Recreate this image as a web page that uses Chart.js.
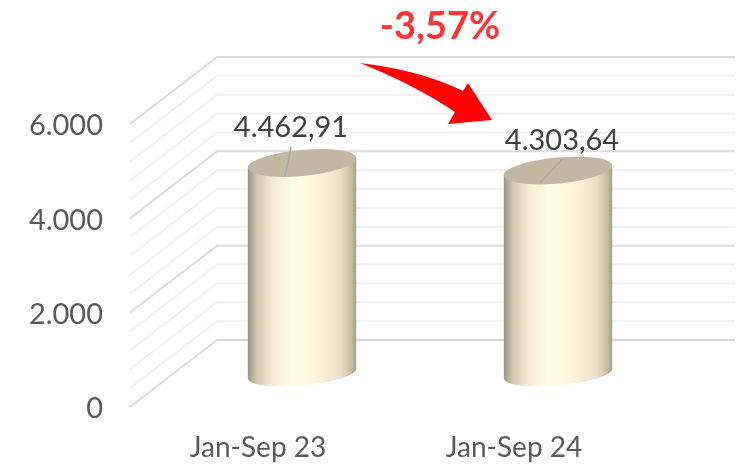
<!DOCTYPE html>
<html>
<head>
<meta charset="utf-8">
<style>
  html, body { margin: 0; padding: 0; background: #fff; }
  canvas { display: block; }
</style>
<script src="https://cdn.jsdelivr.net/npm/chart.js@4/dist/chart.umd.min.js"></script>
</head>
<body>
<canvas id="myChart" width="744" height="469"></canvas>
<script>
const categories = ['Jan-Sep 23', 'Jan-Sep 24'];
const values = [4462.91, 4303.64];
const changeLabel = '-3,57%';

const yMax = 6000;
const yStep = 400;
const yLabelStep = 2000;

// 3d look: how far the back wall and the cylinders sit from the front plane
const depth = { x: 87, y: -67 };
const barDepth = { x: 44, y: -33.5 };
const wallRight = 735;
const capRadiusY = 13;
const capTilt = -5.3 * Math.PI / 180;

// leader line and label offsets from the centre of each top cap
const labelOffsets = [
  { lx: -11, ly: -35, x1: -11, y1: -16, x2: -17, y2: 13 },
  { lx: 4, ly: -30, x1: 4, y1: -11, x2: -18, y2: 12 }
];

const fmt = v => v.toLocaleString('de-DE', { minimumFractionDigits: 2, maximumFractionDigits: 2 });
const fontName = 'Lato, "Open Sans", sans-serif';

const wallGrid = {
  id: 'wallGrid',
  beforeDatasetsDraw(chart) {
    const { ctx, scales } = chart;
    const left = scales.x.left;
    ctx.save();
    scales.y.ticks.forEach(t => {
      const y = scales.y.getPixelForValue(t.value);
      const major = t.value % yLabelStep === 0;
      ctx.beginPath();
      ctx.moveTo(left, y);
      ctx.lineTo(left + depth.x, y + depth.y);
      ctx.lineTo(wallRight, y + depth.y);
      ctx.strokeStyle = major ? '#dcdcdc' : '#f0f0f0';
      ctx.lineWidth = 2;
      ctx.stroke();
    });
    ctx.restore();
  }
};

const cylinders = {
  id: 'cylinders',
  afterDatasetsDraw(chart) {
    const { ctx } = chart;
    const meta = chart.getDatasetMeta(0);
    ctx.save();
    meta.data.forEach((bar, i) => {
      const cx = bar.x + barDepth.x;
      const top = bar.y + barDepth.y;
      const base = bar.base + barDepth.y;
      const rx = bar.width / 2;
      const ex = rx * Math.cos(capTilt);
      const ey = rx * Math.sin(capTilt);

      const side = ctx.createLinearGradient(cx - rx, 0, cx + rx, 0);
      side.addColorStop(0, '#9a927c');
      side.addColorStop(0.08, '#cfc6ae');
      side.addColorStop(0.22, '#f0ead0');
      side.addColorStop(0.42, '#fffee2');
      side.addColorStop(0.65, '#fdf3d8');
      side.addColorStop(0.85, '#eee0c6');
      side.addColorStop(0.96, '#c2b8a0');
      side.addColorStop(1, '#a09880');

      ctx.beginPath();
      ctx.moveTo(cx - ex, top - ey);
      ctx.lineTo(cx - ex, base - ey);
      ctx.ellipse(cx, base, rx, capRadiusY - 1, capTilt, Math.PI, 0, true);
      ctx.lineTo(cx + ex, top + ey);
      ctx.ellipse(cx, top, rx, capRadiusY, capTilt, 0, Math.PI, true);
      ctx.closePath();
      ctx.fillStyle = side;
      ctx.fill();

      ctx.beginPath();
      ctx.ellipse(cx, top, rx, capRadiusY, capTilt, 0, Math.PI * 2);
      ctx.fillStyle = '#c2b7a0';
      ctx.fill();

      const off = labelOffsets[i];
      ctx.beginPath();
      ctx.moveTo(cx + off.x1, top + off.y1);
      ctx.lineTo(cx + off.x2, top + off.y2);
      ctx.strokeStyle = '#a6a6a6';
      ctx.lineWidth = 1.5;
      ctx.stroke();

      ctx.fillStyle = '#404040';
      ctx.font = '29px ' + fontName;
      ctx.textAlign = 'center';
      ctx.textBaseline = 'middle';
      ctx.fillText(fmt(values[i]), cx + off.lx, top + off.ly);
    });
    ctx.restore();
  }
};

// red arrow and the change figure above the chart
const changeArrow = {
  id: 'changeArrow',
  afterDraw(chart) {
    const { ctx } = chart;
    ctx.save();
    ctx.beginPath();
    ctx.moveTo(360, 63);
    ctx.quadraticCurveTo(420, 70, 463, 91);
    ctx.lineTo(468, 83);
    ctx.lineTo(492, 120);
    ctx.lineTo(448, 124);
    ctx.lineTo(455, 112);
    ctx.quadraticCurveTo(415, 85, 360, 63);
    ctx.closePath();
    ctx.fillStyle = '#ff0000';
    ctx.fill();

    ctx.fillStyle = '#ff3333';
    ctx.font = 'bold 38px ' + fontName;
    ctx.textAlign = 'center';
    ctx.textBaseline = 'middle';
    ctx.fillText(changeLabel, 440, 27);
    ctx.restore();
  }
};

let ctx = document.getElementById('myChart').getContext('2d');
let myChart = new Chart(ctx, {
  type: 'bar',
  data: {
    labels: categories,
    datasets: [{
      label: 'Jan-Sep',
      data: values,
      backgroundColor: 'rgba(0, 0, 0, 0)',
      barPercentage: 0.425,
      categoryPercentage: 1
    }]
  },
  plugins: [wallGrid, cylinders, changeArrow],
  options: {
    responsive: false,
    animation: false,
    layout: { padding: { top: 124, right: 102, bottom: 0, left: 0 } },
    plugins: {
      legend: { display: false },
      tooltip: { enabled: false }
    },
    scales: {
      x: {
        grid: { display: false },
        border: { display: false },
        afterFit: s => { s.height = 62; },
        ticks: {
          color: '#595959',
          padding: 16,
          font: { family: fontName, size: 28 }
        }
      },
      y: {
        min: 0,
        max: yMax,
        grid: { display: false, drawTicks: false },
        border: { display: false },
        afterFit: s => { s.width = 130; },
        ticks: {
          stepSize: yStep,
          autoSkip: false,
          padding: 27,
          labelOffset: 2,
          color: '#595959',
          font: { family: fontName, size: 29 },
          callback: v => (v % yLabelStep === 0 ? v.toLocaleString('de-DE') : '')
        }
      }
    }
  }
});
</script>
</body>
</html>
